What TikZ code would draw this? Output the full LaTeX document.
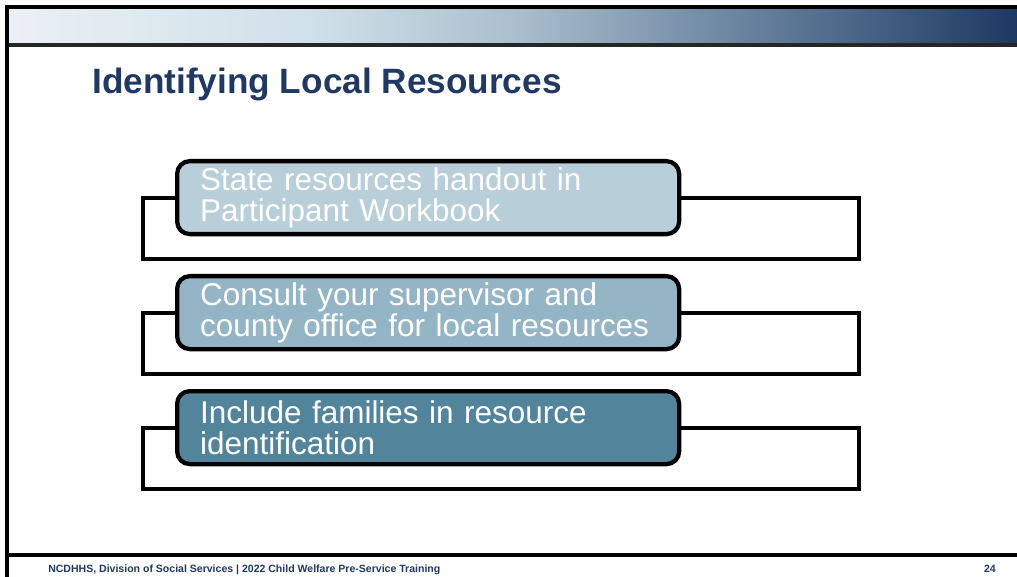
\documentclass[tikz,border=0pt]{standalone}
\usepackage{fontspec}
\setmainfont{Liberation Sans}
\usepackage{xcolor}
\usepackage{tikz}
\usetikzlibrary{positioning}

\definecolor{titleblue}{HTML}{1F3864}
\definecolor{bannerA}{HTML}{EAF0F6}
\definecolor{bannerB}{HTML}{D0E0E9}
\definecolor{bannerC}{HTML}{ABBFCD}
\definecolor{bannerD}{HTML}{66809D}
\definecolor{bannerE}{HTML}{1C3961}
\definecolor{fillone}{HTML}{B8CFD9}
\definecolor{filltwo}{HTML}{93B5C6}
\definecolor{fillthree}{HTML}{52849B}

\pgfdeclarehorizontalshading{bannershade}{100bp}{color(0bp)=(bannerA); color(25bp)=(bannerA); color(40bp)=(bannerB); color(50bp)=(bannerC); color(62bp)=(bannerD); color(75bp)=(bannerE); color(100bp)=(bannerE)}

\tikzset{
  stepframe/.style={draw=black, line width=3pt, minimum width=537pt, minimum height=45.75pt},
  stepbox/.style={draw=black, line width=3.2pt, rounded corners=9.5pt, text=white, align=left,
    text width=342pt, inner xsep=17.25pt, minimum height=54.75pt, anchor=north west,
    font=\fontsize{23.6}{23.5}\selectfont}
}

\begin{document}
\begin{tikzpicture}[x=0.75pt, y=-0.75pt]
\useasboundingbox (0,0) rectangle (1017,577);

% Header banner
\shade[shading=bannershade] (8,9) rectangle (1017,44);
\draw[line width=2.4pt, black!85] (8,45) -- (1017,45);
\draw[line width=3pt] (6.5,577) -- (6.5,7) -- (1017,7);
\node[anchor=base west, inner sep=0pt, text=titleblue, font=\fontsize{26.4}{30}\selectfont\bfseries] (title) at (92,94) {Identifying Local Resources};

% Frames
\node[stepframe] (frame1) at (501,228.5) {};
\node[stepframe, below=37.5pt of frame1] (frame2) {};
\node[stepframe, below=37.5pt of frame2] (frame3) {};

% Boxes
\node[stepbox, fill=fillone] (box1) at ([shift={(34,-37)}]frame1.north west) {State resources handout in\\Participant Workbook};
\node[stepbox, fill=filltwo] (box2) at ([shift={(34,-37)}]frame2.north west) {Consult your supervisor and\\county office for local resources};
\node[stepbox, fill=fillthree] (box3) at ([shift={(34,-37)}]frame3.north west) {Include families in resource\\identification};

% Footer
\draw[line width=3pt] (6.5,555) -- (1017,555);
\node[anchor=base west, inner sep=0pt, text=titleblue, font=\fontsize{7.9}{9}\selectfont\bfseries] (footer) at (48,572) {NCDHHS, Division of Social Services | 2022 Child Welfare Pre-Service Training};
\node[anchor=base east, inner sep=0pt, text=titleblue, font=\fontsize{7.9}{9}\selectfont\bfseries] (page) at (996,572) {24};
\end{tikzpicture}
\end{document}
